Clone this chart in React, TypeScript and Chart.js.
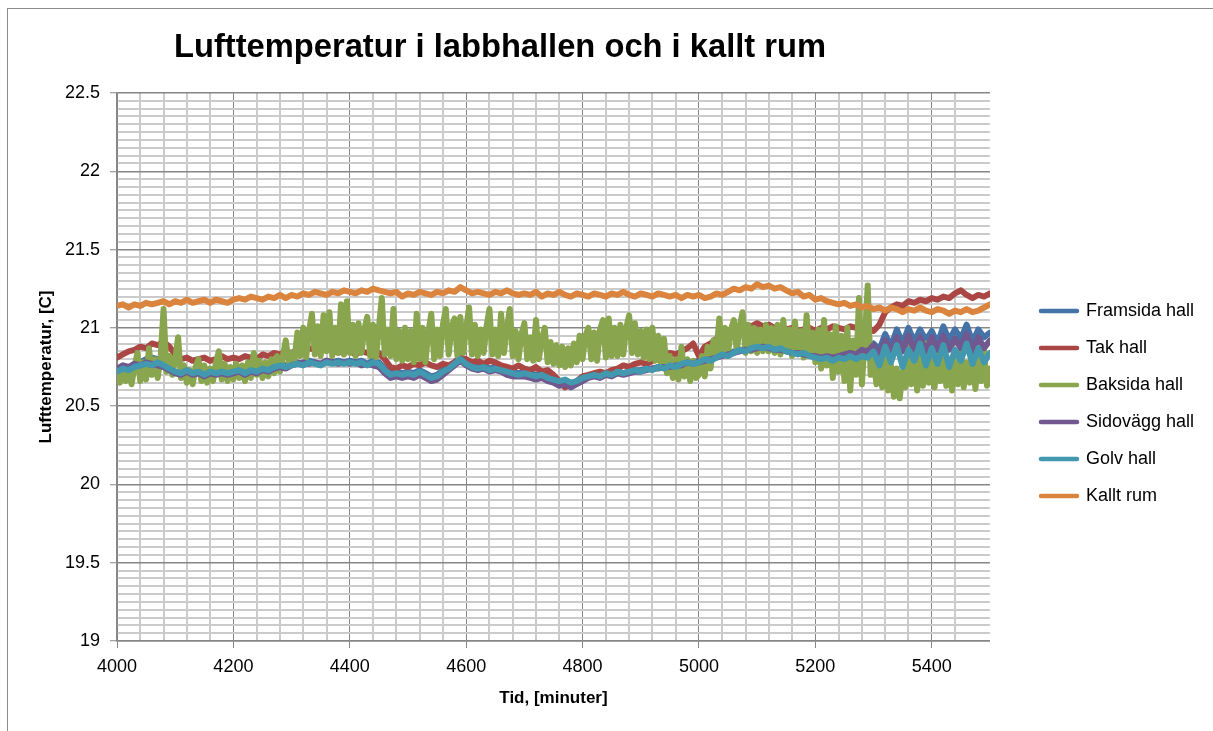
import React, { useEffect, useRef } from 'react';
import { Chart, registerables } from 'chart.js';

Chart.register(...registerables);

const FONT = '"Liberation Sans", Arial, sans-serif';

const TITLE = 'Lufttemperatur i labbhallen och i kallt rum';
const X_TITLE = 'Tid, [minuter]';
const Y_TITLE = 'Lufttemperatur, [C]';

const X_MIN = 4000;
const X_MAX = 5500;
const X_MAJOR = 200;
const X_MINOR = 40;
const Y_MIN = 19;
const Y_MAX = 22.5;
const Y_MAJOR = 0.5;
const Y_MINOR = 0.05;

const SERIES_NAMES = ['Framsida hall', 'Tak hall', 'Baksida hall', 'Sidovägg hall', 'Golv hall', 'Kallt rum'];
const SERIES_COLORS = ['#4572A7', '#AA4643', '#89A54E', '#71588F', '#4198AF', '#DB843D'];

// sampling times (minutes): every 10 min and every 5 min
const TIME_COARSE = Array.from({ length: 151 }, (_, i) => X_MIN + 10 * i);
const TIME_FINE = Array.from({ length: 301 }, (_, i) => X_MIN + 5 * i);

const FRAMSIDA = [
  20.73, 20.75, 20.74, 20.77, 20.78, 20.80, 20.81, 20.80, 20.78, 20.75,
  20.72, 20.71, 20.73, 20.71, 20.72, 20.71, 20.73, 20.72, 20.73, 20.72,
  20.73, 20.74, 20.72, 20.74, 20.73, 20.75, 20.74, 20.76, 20.77, 20.76,
  20.77, 20.78, 20.77, 20.79, 20.78, 20.77, 20.79, 20.78, 20.79, 20.78,
  20.79, 20.78, 20.79, 20.77, 20.79, 20.78, 20.74, 20.71, 20.72, 20.71,
  20.72, 20.71, 20.73, 20.71, 20.69, 20.70, 20.73, 20.75, 20.78, 20.81,
  20.78, 20.76, 20.75, 20.76, 20.74, 20.75, 20.74, 20.73, 20.72, 20.71,
  20.72, 20.71, 20.70, 20.71, 20.69, 20.68, 20.65, 20.64, 20.63, 20.65,
  20.67, 20.69, 20.70, 20.69, 20.71, 20.70, 20.72, 20.71, 20.72, 20.73,
  20.73, 20.74, 20.74, 20.75, 20.75, 20.76, 20.76, 20.77, 20.78, 20.78,
  20.79, 20.80, 20.80, 20.82, 20.83, 20.83, 20.85, 20.86, 20.86, 20.88,
  20.89, 20.88, 20.88, 20.87, 20.87, 20.86, 20.85, 20.85, 20.84, 20.83,
  20.83, 20.82, 20.83, 20.82, 20.83, 20.84, 20.86, 20.85, 20.88, 20.87,
  20.90, 20.86, 20.96, 20.88, 20.99, 20.90, 21.00, 20.91, 20.99, 20.92,
  20.98, 20.90, 21.01, 20.92, 20.99, 20.93, 21.02, 20.91, 20.99, 20.94,
  20.97,
];

const TAK = [
  20.81, 20.83, 20.85, 20.86, 20.88, 20.87, 20.90, 20.89, 20.91, 20.88,
  20.83, 20.80, 20.81, 20.79, 20.80, 20.81, 20.79, 20.80, 20.82, 20.80,
  20.81, 20.80, 20.82, 20.81, 20.80, 20.83, 20.82, 20.84, 20.83, 20.85,
  20.84, 20.86, 20.85, 20.87, 20.86, 20.85, 20.87, 20.86, 20.84, 20.86,
  20.85, 20.83, 20.85, 20.84, 20.86, 20.84, 20.80, 20.75, 20.74, 20.76,
  20.75, 20.77, 20.76, 20.78, 20.76, 20.75, 20.77, 20.76, 20.78, 20.81,
  20.80, 20.78, 20.79, 20.77, 20.79, 20.78, 20.76, 20.75, 20.74, 20.76,
  20.74, 20.73, 20.75, 20.72, 20.73, 20.70, 20.66, 20.62, 20.64, 20.66,
  20.69, 20.70, 20.71, 20.72, 20.71, 20.73, 20.74, 20.76, 20.75, 20.77,
  20.78, 20.77, 20.79, 20.80, 20.82, 20.84, 20.83, 20.85, 20.87, 20.90,
  20.82, 20.88, 20.90, 20.93, 20.95, 20.96, 20.98, 21.00, 21.02, 21.01,
  21.03, 21.01, 21.02, 21.00, 21.01, 20.99, 21.00, 20.98, 20.99, 21.00,
  20.98, 21.00, 20.99, 21.01, 21.00, 20.99, 21.01, 21.00, 21.02, 21.00,
  20.98, 21.02, 21.10, 21.13, 21.15, 21.14, 21.17, 21.16, 21.18, 21.17,
  21.19, 21.18, 21.20, 21.19, 21.22, 21.24, 21.21, 21.19, 21.21, 21.20,
  21.22,
];

const BAKSIDA = [
  20.72, 20.65, 20.76, 20.66, 20.74, 20.64, 20.75, 20.84, 20.66, 20.78, 20.67, 20.87, 20.70, 20.80, 20.68, 20.82, 21.12, 20.72, 20.82, 20.70,
  20.80, 20.94, 20.68, 20.76, 20.65, 20.73, 20.64, 20.75, 20.80, 20.66, 20.76, 20.65, 20.74, 20.66, 20.78, 20.85, 20.67, 20.77, 20.66, 20.75,
  20.67, 20.77, 20.68, 20.76, 20.66, 20.78, 20.68, 20.84, 20.70, 20.79, 20.68, 20.78, 20.69, 20.80, 20.71, 20.82, 20.72, 20.82, 20.92, 20.78,
  20.84, 20.80, 20.97, 20.82, 21.00, 20.81, 20.98, 21.09, 20.83, 21.01, 20.82, 21.08, 20.85, 21.10, 20.82, 21.00, 20.84, 21.15, 20.83, 21.17,
  20.84, 21.02, 20.82, 21.03, 20.84, 20.99, 21.07, 20.82, 21.02, 20.81, 21.00, 21.19, 20.83, 20.99, 20.82, 21.12, 20.80, 20.98, 20.79, 21.00,
  20.80, 20.98, 20.78, 21.09, 20.80, 21.00, 20.78, 20.97, 21.09, 20.80, 20.99, 20.82, 21.02, 21.12, 20.83, 21.01, 21.06, 20.82, 21.07, 20.84,
  21.00, 21.13, 20.83, 21.02, 20.82, 20.99, 20.84, 21.01, 21.12, 20.83, 20.99, 20.82, 21.09, 20.84, 21.00, 21.12, 20.82, 20.98, 20.80, 20.96,
  21.03, 20.80, 20.94, 20.79, 21.05, 20.80, 20.93, 21.00, 20.78, 20.91, 20.77, 20.89, 20.76, 20.88, 20.75, 20.87, 20.76, 20.90, 20.78, 20.95,
  20.80, 20.95, 21.00, 20.80, 20.97, 20.79, 20.99, 21.05, 20.81, 21.06, 20.82, 21.00, 20.82, 21.02, 20.83, 21.00, 21.08, 20.84, 21.03, 20.83,
  20.98, 20.81, 20.99, 20.80, 21.00, 20.79, 20.95, 20.76, 20.93, 20.71, 20.82, 20.68, 20.80, 20.67, 20.88, 20.69, 20.80, 20.66, 20.79, 20.68,
  20.70, 20.82, 20.69, 20.88, 20.74, 20.92, 20.84, 21.06, 20.84, 21.00, 20.84, 20.99, 21.05, 20.85, 21.01, 21.10, 20.84, 21.02, 20.85, 21.00,
  20.84, 20.99, 20.85, 21.02, 20.85, 21.00, 20.84, 21.02, 20.83, 21.05, 20.85, 20.99, 20.82, 21.04, 20.84, 20.98, 20.81, 21.08, 20.83, 20.97,
  20.78, 20.99, 20.74, 21.05, 20.76, 20.96, 20.68, 21.01, 20.72, 20.95, 20.66, 21.00, 20.60, 20.92, 20.70, 21.19, 20.64, 20.93, 21.27, 20.70,
  20.80, 20.64, 20.78, 20.62, 20.84, 20.60, 20.76, 20.56, 20.74, 20.55, 20.72, 20.62, 20.88, 20.64, 20.78, 20.60, 20.82, 20.63, 20.90, 20.65,
  20.80, 20.62, 20.85, 20.66, 20.90, 20.63, 20.79, 20.60, 20.82, 20.64, 20.86, 20.62, 20.78, 20.65, 20.83, 20.61, 20.80, 20.66, 20.85, 20.63,
  20.74,
];

const SIDOVAGG = [
  20.74, 20.76, 20.75, 20.77, 20.76, 20.78, 20.77, 20.76, 20.75, 20.73,
  20.71, 20.70, 20.72, 20.70, 20.71, 20.69, 20.71, 20.70, 20.71, 20.70,
  20.71, 20.72, 20.70, 20.72, 20.71, 20.73, 20.72, 20.74, 20.75, 20.74,
  20.76, 20.77, 20.78, 20.77, 20.78, 20.77, 20.79, 20.78, 20.77, 20.78,
  20.77, 20.78, 20.76, 20.77, 20.76, 20.75, 20.71, 20.68, 20.69, 20.68,
  20.69, 20.68, 20.70, 20.68, 20.66, 20.67, 20.70, 20.73, 20.76, 20.79,
  20.76, 20.74, 20.73, 20.74, 20.72, 20.73, 20.72, 20.70, 20.69, 20.69,
  20.69, 20.68, 20.67, 20.68, 20.66, 20.65, 20.63, 20.64, 20.62, 20.64,
  20.66, 20.68, 20.69, 20.68, 20.70, 20.69, 20.71, 20.70, 20.71, 20.72,
  20.72, 20.73, 20.74, 20.74, 20.75, 20.75, 20.76, 20.76, 20.78, 20.77,
  20.78, 20.79, 20.80, 20.81, 20.82, 20.83, 20.84, 20.85, 20.86, 20.86,
  20.87, 20.88, 20.87, 20.86, 20.86, 20.85, 20.84, 20.84, 20.83, 20.82,
  20.82, 20.81, 20.82, 20.81, 20.82, 20.83, 20.84, 20.83, 20.86, 20.85,
  20.89, 20.82, 20.92, 20.84, 20.94, 20.85, 20.95, 20.86, 20.94, 20.85,
  20.94, 20.86, 20.95, 20.86, 20.93, 20.87, 20.96, 20.85, 20.94, 20.87,
  20.92,
];

const GOLV = [
  20.72, 20.74, 20.73, 20.75, 20.76, 20.77, 20.76, 20.78, 20.76, 20.74,
  20.72, 20.71, 20.73, 20.71, 20.72, 20.70, 20.72, 20.71, 20.72, 20.71,
  20.72, 20.73, 20.71, 20.73, 20.72, 20.74, 20.73, 20.75, 20.76, 20.75,
  20.76, 20.77, 20.76, 20.78, 20.77, 20.76, 20.78, 20.77, 20.78, 20.77,
  20.78, 20.77, 20.78, 20.76, 20.78, 20.77, 20.73, 20.70, 20.71, 20.70,
  20.71, 20.70, 20.72, 20.70, 20.68, 20.69, 20.72, 20.74, 20.77, 20.80,
  20.77, 20.75, 20.74, 20.75, 20.73, 20.74, 20.73, 20.72, 20.71, 20.70,
  20.71, 20.70, 20.69, 20.70, 20.68, 20.67, 20.66, 20.67, 20.65, 20.66,
  20.68, 20.69, 20.70, 20.69, 20.71, 20.70, 20.72, 20.71, 20.72, 20.73,
  20.72, 20.74, 20.73, 20.75, 20.74, 20.76, 20.75, 20.77, 20.78, 20.77,
  20.78, 20.80, 20.79, 20.81, 20.83, 20.82, 20.84, 20.86, 20.85, 20.87,
  20.88, 20.87, 20.88, 20.86, 20.87, 20.85, 20.84, 20.83, 20.84, 20.82,
  20.81, 20.80, 20.81, 20.79, 20.81, 20.80, 20.82, 20.80, 20.82, 20.81,
  20.85, 20.76, 20.88, 20.78, 20.89, 20.75, 20.86, 20.79, 20.90, 20.76,
  20.87, 20.77, 20.89, 20.75, 20.86, 20.79, 20.90, 20.77, 20.87, 20.78,
  20.84,
];

const KALLT = [
  21.14, 21.15, 21.13, 21.15, 21.14, 21.16, 21.15, 21.16, 21.17, 21.15,
  21.17, 21.16, 21.18, 21.16, 21.17, 21.18, 21.16, 21.18, 21.17, 21.16,
  21.18, 21.19, 21.18, 21.20, 21.19, 21.18, 21.20, 21.19, 21.21, 21.19,
  21.21, 21.20, 21.22, 21.21, 21.23, 21.22, 21.21, 21.23, 21.22, 21.24,
  21.23, 21.22, 21.24, 21.23, 21.25, 21.24, 21.23, 21.22, 21.23, 21.20,
  21.22, 21.21, 21.23, 21.22, 21.21, 21.23, 21.22, 21.24, 21.23, 21.26,
  21.24, 21.22, 21.23, 21.22, 21.21, 21.23, 21.22, 21.24, 21.22, 21.21,
  21.22, 21.21, 21.23, 21.20, 21.22, 21.21, 21.23, 21.21, 21.20, 21.22,
  21.21, 21.20, 21.22, 21.21, 21.20, 21.22, 21.21, 21.23, 21.21, 21.20,
  21.22, 21.21, 21.20, 21.22, 21.21, 21.20, 21.21, 21.19, 21.21, 21.20,
  21.21, 21.19, 21.20, 21.22, 21.21, 21.23, 21.25, 21.24, 21.26, 21.25,
  21.28, 21.26, 21.27, 21.25, 21.26, 21.24, 21.22, 21.23, 21.20, 21.21,
  21.18, 21.19, 21.17, 21.16, 21.15, 21.16, 21.14, 21.15, 21.13, 21.14,
  21.12, 21.13, 21.11, 21.13, 21.12, 21.10, 21.12, 21.11, 21.13, 21.11,
  21.10, 21.12, 21.11, 21.09, 21.11, 21.10, 21.12, 21.10, 21.11, 21.13,
  21.15,
];

const SERIES_VALUES = [FRAMSIDA, TAK, BAKSIDA, SIDOVAGG, GOLV, KALLT];
const SERIES_TIMES = [TIME_COARSE, TIME_COARSE, TIME_FINE, TIME_COARSE, TIME_COARSE, TIME_COARSE];

const MAJOR_GRID = '#868686';
const MINOR_GRID = '#cbcbcb';

const isMultiple = (v: number, m: number) => Math.abs(v / m - Math.round(v / m)) < 1e-6;

const titlePlugin = {
  id: 'excelTitle',
  afterDraw(chart: any) {
    const ctx = chart.ctx;
    ctx.save();
    ctx.font = `bold 32.7px ${FONT}`;
    ctx.fillStyle = '#000';
    ctx.textAlign = 'center';
    ctx.textBaseline = 'alphabetic';
    ctx.fillText(TITLE, 492, 48);
    ctx.restore();
  },
};

const LEGEND_PAD = 19;
const LEGEND_BOX_X = 1033;
const LEGEND_FIRST_Y = 293;

const legendPlacePlugin = {
  id: 'legendPlace',
  afterLayout(chart: any) {
    const lg = chart.legend;
    if (!lg || !lg.columnSizes || !lg.columnSizes.length) return;
    const dx = LEGEND_BOX_X - (lg.left + LEGEND_PAD);
    lg.left += dx;
    lg.right += dx;
    const colH = lg.columnSizes[0].height;
    const natural = (lg.top + LEGEND_PAD + lg.bottom - colH) / 2;
    const dy = LEGEND_FIRST_Y - natural;
    lg.top += dy;
    lg.bottom += dy;
  },
};

export default function App() {
  const ref = useRef<HTMLCanvasElement>(null);

  useEffect(() => {
    const canvas = ref.current;
    if (!canvas) return;
    const datasets = SERIES_NAMES.map((name, i) => ({
      label: name,
      data: SERIES_VALUES[i].map((v, j) => ({ x: SERIES_TIMES[i][j], y: v })),
      borderColor: SERIES_COLORS[i],
      backgroundColor: SERIES_COLORS[i],
      borderWidth: 6,
      pointRadius: 0,
      tension: 0,
      borderJoinStyle: 'round' as const,
      borderCapStyle: 'round' as const,
      order: SERIES_NAMES.length - 1 - i,
    }));

    const chart = new Chart(canvas, {
      type: 'line',
      data: { datasets },
      options: {
        animation: false,
        responsive: false,
        events: [],
        layout: { padding: { top: 84, left: 0, right: 41, bottom: 0 } },
        scales: {
          x: {
            type: 'linear',
            min: X_MIN,
            max: X_MAX,
            afterFit: (s: any) => { s.height = 90; },
            ticks: {
              stepSize: X_MINOR,
              maxTicksLimit: 1000,
              autoSkip: false,
              maxRotation: 0,
              padding: 8,
              color: '#000',
              font: { family: FONT, size: 18 },
              callback: (v: any) => (isMultiple(Number(v), X_MAJOR) ? String(v) : ''),
            },
            grid: {
              color: (c: any) => {
                const v = c.tick ? c.tick.value : NaN;
                if (!isMultiple(v - X_MIN, X_MINOR)) return 'rgba(0,0,0,0)';
                return isMultiple(v, X_MAJOR) ? MAJOR_GRID : MINOR_GRID;
              },
              lineWidth: (c: any) => {
                const v = c.tick ? c.tick.value : NaN;
                return isMultiple(v, X_MAJOR) ? 1 : 2;
              },
              tickColor: (c: any) => {
                const v = c.tick ? c.tick.value : NaN;
                return isMultiple(v, X_MAJOR) ? MAJOR_GRID : 'rgba(0,0,0,0)';
              },
              tickLength: 7,
              tickWidth: 1,
            },
            border: { color: MAJOR_GRID, width: 1.5 },
            title: {
              display: true,
              text: X_TITLE,
              color: '#000',
              font: { family: FONT, size: 17, weight: 'bold' },
              padding: { top: 0, bottom: 22 },
            },
          },
          y: {
            type: 'linear',
            min: Y_MIN,
            max: Y_MAX,
            afterFit: (s: any) => { s.width = 109; },
            ticks: {
              stepSize: Y_MINOR,
              maxTicksLimit: 1000,
              autoSkip: false,
              padding: 10,
              color: '#000',
              font: { family: FONT, size: 18 },
              callback: (v: any) => (isMultiple(Number(v), Y_MAJOR) ? String(Number(v)) : ''),
            },
            grid: {
              color: (c: any) => {
                const v = c.tick ? c.tick.value : NaN;
                return isMultiple(v, Y_MAJOR) ? MAJOR_GRID : MINOR_GRID;
              },
              lineWidth: (c: any) => {
                const v = c.tick ? c.tick.value : NaN;
                return isMultiple(v, Y_MAJOR) ? 1.5 : 2;
              },
              tickColor: (c: any) => {
                const v = c.tick ? c.tick.value : NaN;
                return isMultiple(v, Y_MAJOR) ? MAJOR_GRID : 'rgba(0,0,0,0)';
              },
              tickLength: 7,
              tickWidth: 1,
            },
            border: { color: MAJOR_GRID, width: 1.5 },
            title: {
              display: true,
              text: Y_TITLE,
              color: '#000',
              font: { family: FONT, size: 17, weight: 'bold' },
              padding: { top: 28, bottom: 0 },
            },
          },
        },
        plugins: {
          title: { display: false },
          tooltip: { enabled: false },
          legend: {
            display: true,
            position: 'right',
            align: 'center',
            labels: {
              boxWidth: 36,
              boxHeight: 0,
              padding: LEGEND_PAD,
              color: '#000',
              font: { family: FONT, size: 18 },
              generateLabels: (chart: any) => {
                const items = (Chart.defaults as any).plugins.legend.labels.generateLabels(chart);
                items.forEach((it: any) => { it.lineWidth = 4.5; });
                return items;
              },
              sort: (a: any, b: any) => a.datasetIndex - b.datasetIndex,
            },
          },
        },
      },
      plugins: [titlePlugin, legendPlacePlugin],
    } as any);

    return () => chart.destroy();
  }, []);

  return (
    <div style={{ position: 'fixed', left: 0, top: 0, width: 1213, height: 731, overflow: 'hidden', background: '#fff' }}>
      <div
        style={{
          position: 'absolute',
          left: 7,
          top: 8,
          width: 1230,
          height: 740,
          border: '1px solid #8c8c8c',
          boxSizing: 'border-box',
        }}
      >
        <canvas ref={ref} width={1205} height={722} style={{ display: 'block', width: 1205, height: 722 }} />
      </div>
    </div>
  );
}
